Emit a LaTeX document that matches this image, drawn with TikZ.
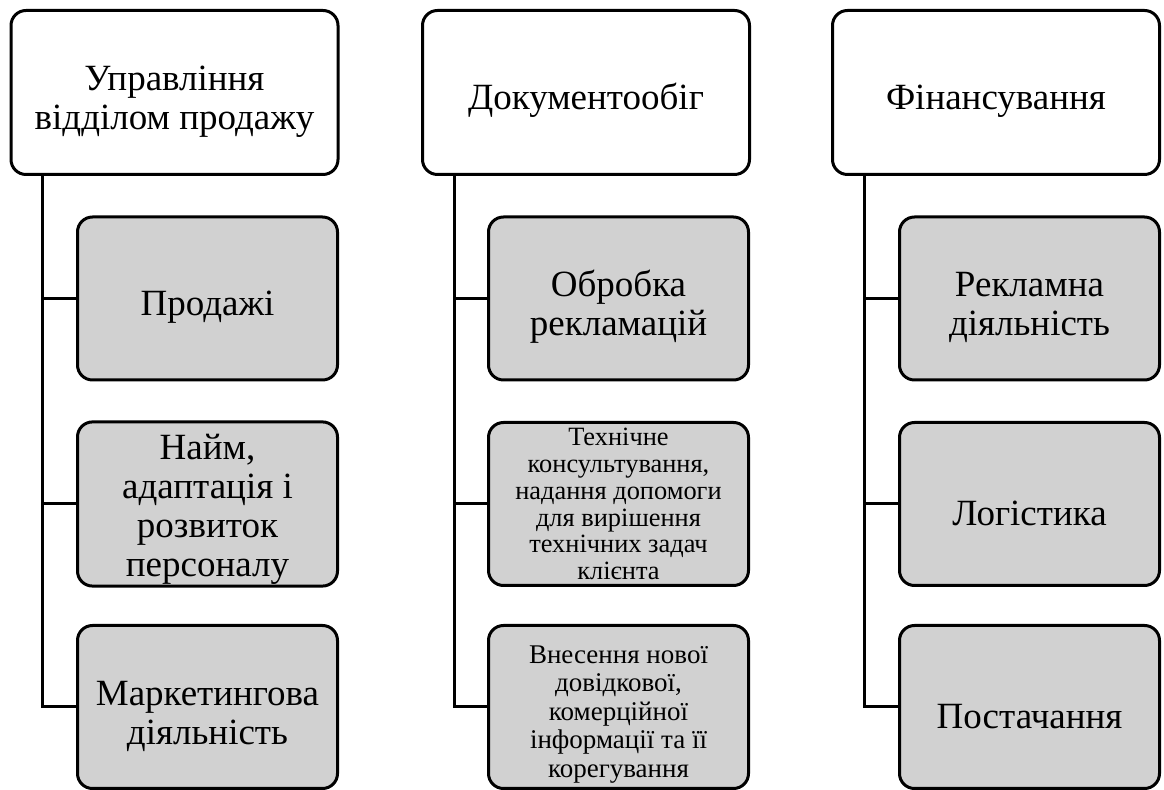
\documentclass[tikz,border=0pt]{standalone}
\usepackage{fontspec}
\setmainfont{Liberation Serif}
\newcommand\lift[1][1.15em]{\rule{0pt}{#1}}
\begin{document}
\begin{tikzpicture}[x=0.5pt,y=-0.5pt,
    box/.style={draw, line width=1.5pt, rounded corners=7.5pt, align=center, inner sep=1pt},
    head/.style={box, fill=white, minimum width=163.5pt, minimum height=82pt,
      font=\fontsize{18.5}{19.5}\selectfont},
    item/.style={box, fill=black!18, minimum width=130pt, minimum height=81.5pt,
      font=\fontsize{18.5}{19.5}\selectfont},
    small/.style={font=\fontsize{13.5}{14.2}\selectfont}]
  \useasboundingbox (0,0) rectangle (1164,790);

  % headings
  \node[head] (mgmt) at (174.5,92.5) {\lift Управління\\відділом продажу};
  \node[head] (docs) at (586,92.5) {\lift Документообіг};
  \node[head] (fin)  at (996,92.5) {\lift Фінансування};

  % first column
  \node[item] (sales)     at (207.5,298.5) {\lift Продажі};
  \node[item] (staff)     at (207.5,504)   {\lift[0.95em]Найм,\\адаптація і\\розвиток\\персоналу};
  \node[item] (marketing) at (207.5,707)   {\lift Маркетингова\\діяльність};

  % second column
  \node[item] (claims)    at (618.5,298.5) {\lift Обробка\\рекламацій};
  \node[item, small, font=\fontsize{13.2}{13.4}\selectfont] (support) at (618.5,504)
    {Технічне\\консультування,\\надання допомоги\\для вирішення\\технічних задач\\клієнта};
  \node[item, small] (info)    at (618.5,707)
    {\lift[1.2em]Внесення нової\\довідкової,\\комерційної\\інформації та її\\корегування};

  % third column
  \node[item] (ads)       at (1029.5,298.5) {\lift Рекламна\\діяльність};
  \node[item] (logistics) at (1029.5,504)   {\lift Логістика};
  \node[item] (supply)    at (1029.5,707)   {\lift Постачання};

  % connectors
  \foreach \top/\a/\b/\c in {mgmt/sales/staff/marketing,
                             docs/claims/support/info,
                             fin/ads/logistics/supply} {
    \coordinate (trunk) at ([xshift=16.5pt]\top.south west);
    \draw[line width=1.5pt] (trunk) |- (\c.west);
    \draw[line width=1.5pt] (trunk |- \a.west) -- (\a.west);
    \draw[line width=1.5pt] (trunk |- \b.west) -- (\b.west);
  }
\end{tikzpicture}
\end{document}
